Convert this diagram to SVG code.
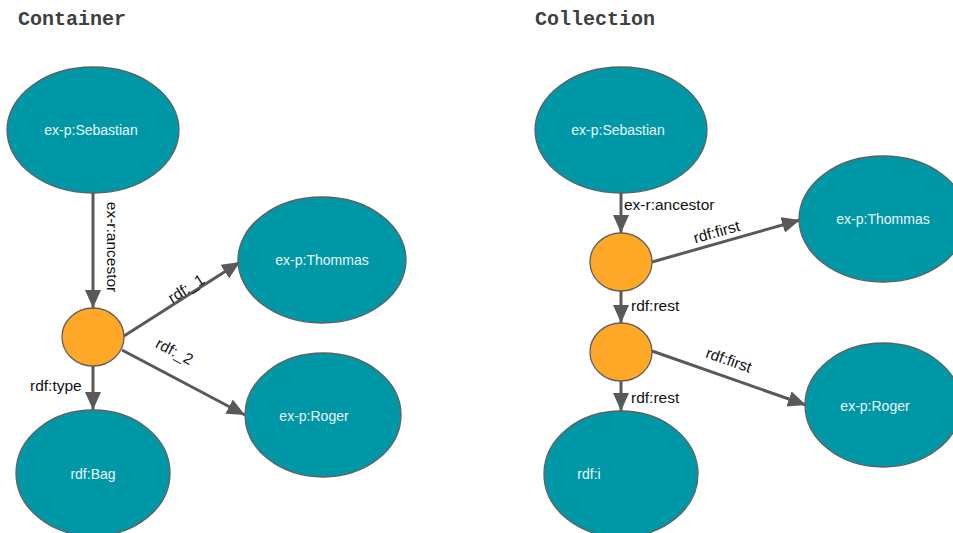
<svg xmlns="http://www.w3.org/2000/svg" width="953" height="533" viewBox="0 0 953 533">
  <defs>
    <marker id="arrow" markerUnits="userSpaceOnUse" markerWidth="20" markerHeight="16" refX="18" refY="8" orient="auto">
      <path d="M0,0 L18,8 L0,16 Z" fill="#595959"/>
    </marker>
    <style>
      .title { font-family: "Liberation Mono", monospace; font-weight: bold; font-size: 20px; fill: #404040; }
      .res ellipse { fill: #0097a7; stroke: #5f5f5f; stroke-width: 1.3; }
      .blank ellipse { fill: #ffa726; stroke: #5f5f5f; stroke-width: 1.3; }
      .res text { font-family: "Liberation Sans", Arial, sans-serif; font-size: 14px; fill: #e8f6f7; text-anchor: middle; }
      .edges line { stroke: #595959; stroke-width: 3; marker-end: url(#arrow); }
      .edges text { font-family: "Liberation Sans", Arial, sans-serif; font-size: 15.5px; fill: #111; }
    </style>
  </defs>
  <rect width="953" height="533" fill="#ffffff"/>

  <text class="title" x="18" y="25">Container</text>
  <text class="title" x="535" y="25">Collection</text>

  <!-- Container side connectors -->
  <g id="edges-container" class="edges">
    <line x1="93" y1="193" x2="93" y2="308"/>
    <line x1="93" y1="366" x2="93" y2="410"/>
    <line x1="124" y1="336" x2="240" y2="262"/>
    <line x1="122" y1="350" x2="245" y2="415"/>
    <text transform="translate(107,247) rotate(90)" text-anchor="middle">ex-r:ancestor</text>
    <text x="30" y="391">rdf:type</text>
    <text transform="translate(189,293) rotate(-32.5)" text-anchor="middle">rdf:_1</text>
    <text transform="translate(172,356) rotate(27.9)" text-anchor="middle">rdf:_2</text>
  </g>

  <!-- Collection side connectors -->
  <g id="edges-collection" class="edges">
    <line x1="621" y1="193" x2="621" y2="233"/>
    <line x1="652" y1="262" x2="800" y2="220"/>
    <line x1="621" y1="291" x2="621" y2="323"/>
    <line x1="652" y1="351" x2="806" y2="405"/>
    <line x1="621" y1="381" x2="621" y2="411"/>
    <text x="624" y="210">ex-r:ancestor</text>
    <text transform="translate(718,237) rotate(-15.8)" text-anchor="middle">rdf:first</text>
    <text x="631" y="311">rdf:rest</text>
    <text transform="translate(727,365) rotate(19.3)" text-anchor="middle">rdf:first</text>
    <text x="631" y="403">rdf:rest</text>
  </g>

  <!-- Container nodes -->
  <g id="c-sebastian" class="res">
    <ellipse cx="93" cy="130" rx="86" ry="63"/>
    <text x="91" y="135">ex-p:Sebastian</text>
  </g>
  <g id="c-bag" class="blank">
    <ellipse cx="93" cy="337" rx="31" ry="29"/>
  </g>
  <g id="c-thommas" class="res">
    <ellipse cx="322" cy="260" rx="84" ry="63"/>
    <text x="322" y="265">ex-p:Thommas</text>
  </g>
  <g id="c-roger" class="res">
    <ellipse cx="323" cy="415" rx="78" ry="62"/>
    <text x="314" y="421">ex-p:Roger</text>
  </g>
  <g id="c-type" class="res">
    <ellipse cx="93" cy="473" rx="77" ry="63"/>
    <text x="93" y="479">rdf:Bag</text>
  </g>

  <!-- Collection nodes -->
  <g id="l-sebastian" class="res">
    <ellipse cx="621" cy="130" rx="86" ry="63"/>
    <text x="618" y="135">ex-p:Sebastian</text>
  </g>
  <g id="l-list1" class="blank">
    <ellipse cx="621" cy="262" rx="31" ry="29"/>
  </g>
  <g id="l-list2" class="blank">
    <ellipse cx="621" cy="352" rx="31" ry="29"/>
  </g>
  <g id="l-thommas" class="res">
    <ellipse cx="883" cy="219" rx="84" ry="63"/>
    <text x="883" y="224">ex-p:Thommas</text>
  </g>
  <g id="l-roger" class="res">
    <ellipse cx="883" cy="405" rx="78" ry="62"/>
    <text x="875" y="411">ex-p:Roger</text>
  </g>
  <g id="l-nil" class="res">
    <ellipse cx="621" cy="474" rx="77" ry="63"/>
    <text x="589" y="479">rdf:i</text>
  </g>
</svg>
